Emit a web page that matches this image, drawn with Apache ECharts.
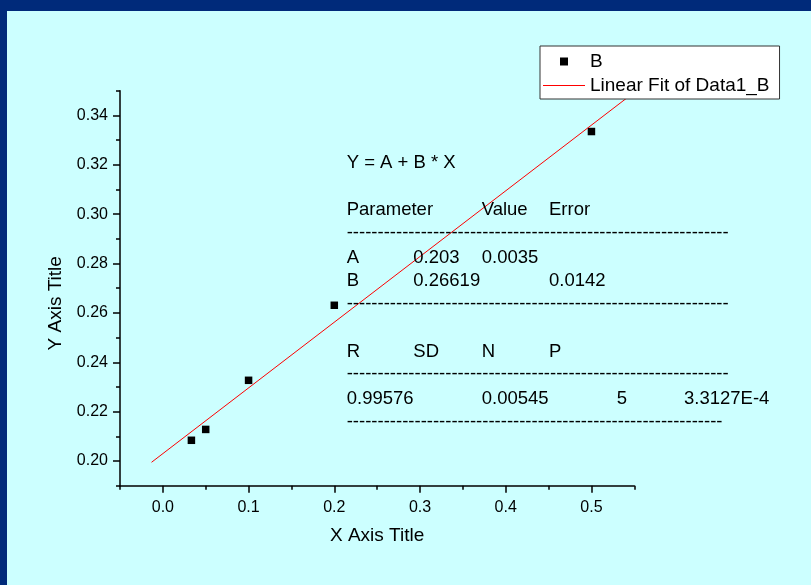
<!DOCTYPE html>
<html>
<head>
<meta charset="utf-8">
<script src="https://cdn.jsdelivr.net/npm/echarts@6/dist/echarts.min.js"></script>
<style>
  html, body { margin: 0; padding: 0; background: #CCFFFF; }
  #chart { width: 811px; height: 585px; }
</style>
</head>
<body>
<div id="chart"></div>
<script>
// Measured points (series "B")
const xValues = [0.0333, 0.05, 0.1, 0.2, 0.5];
const yValues = [0.2084, 0.2128, 0.2327, 0.2631, 0.3335];

// Linear fit parameters and the x span of the drawn fit line
const fitA = 0.203;
const fitB = 0.26619;
const fitXRange = [-0.0132, 0.55];

// Axis ticks
const xMajorTicks = [0.0, 0.1, 0.2, 0.3, 0.4, 0.5];
const xMinorTicks = [-0.05, 0.05, 0.15, 0.25, 0.35, 0.45, 0.55];
const yMajorTicks = [0.20, 0.22, 0.24, 0.26, 0.28, 0.30, 0.32, 0.34];
const yMinorTicks = [0.19, 0.21, 0.23, 0.25, 0.27, 0.29, 0.31, 0.33, 0.35];

// Fit report text
const equationLine = ['Y = A + B * X'];
const paramHeader = ['Parameter', '', 'Value', 'Error'];
const paramRowA = ['A', String(fitA), '0.0035'];
const paramRowB = ['B', String(fitB), '', '0.0142'];
const statHeader = ['R', 'SD', 'N', 'P'];
const statValues = ['0.99576', '', '0.00545', '', '5', '3.3127E-4'];

const FONT = '"Liberation Sans", Arial, sans-serif';
const reportFont = '18.5px ' + FONT;
const colX = [346.7, 413.3, 481.7, 549, 616.7, 684];

function textRow(cells, y) {
  return cells.map((t, i) => ({
    type: 'text', x: colX[i], y: y, z: 10,
    style: { text: t, font: reportFont, fill: '#000', verticalAlign: 'middle' }
  })).filter(e => e.style.text !== '');
}
function dashRow(count, y) {
  return [{
    type: 'text', x: colX[0], y: y, z: 10,
    style: { text: '-'.repeat(count), font: reportFont, fill: '#000', verticalAlign: 'middle' }
  }];
}

const reportElements = [].concat(
  textRow(equationLine, 163),
  textRow(paramHeader, 210),
  dashRow(62, 233),
  textRow(paramRowA, 258.3),
  textRow(paramRowB, 281),
  dashRow(62, 304),
  textRow(statHeader, 351.7),
  dashRow(62, 374),
  textRow(statValues, 399),
  dashRow(61, 421.5)
);

const frameColor = '#002A7A';
const axisColor = '#000';
const fitColor = '#FF0000';
const tickFontSize = 16;

const scatterData = xValues.map((x, i) => [x, yValues[i]]);
const fitData = fitXRange.map(x => [x, fitA + fitB * x]);

const chart = echarts.init(document.getElementById('chart'));
chart.setOption({
  backgroundColor: '#CCFFFF',
  animation: false,
  textStyle: { fontFamily: FONT },
  grid: { left: 120, top: 90.8, width: 514.3, height: 394.9, outerBoundsMode: 'none' },
  legend: {
    orient: 'vertical',
    left: 540, top: 46,
    backgroundColor: '#fff',
    borderColor: '#333', borderWidth: 1,
    padding: [6, 10, 4, 3],
    itemWidth: 42, itemHeight: 8, itemGap: 5,
    textStyle: { fontSize: 19, color: '#000', fontFamily: FONT },
    data: [
      { name: 'B', icon: 'path://M0,0M42,8M17,0h8v8h-8z',
        itemStyle: { color: '#000', borderWidth: 0 } },
      { name: 'Linear Fit of Data1_B', icon: 'rect',
        itemStyle: { opacity: 0, borderWidth: 0 } }
    ]
  },
  xAxis: [{
    type: 'value', min: -0.05, max: 0.55, interval: 0.05, position: 'bottom',
    axisLine: { show: true, onZero: false, lineStyle: { color: axisColor, width: 1.5 } },
    axisTick: { show: true, customValues: xMajorTicks, length: 7, lineStyle: { color: axisColor, width: 1.5 } },
    axisLabel: { customValues: xMajorTicks, formatter: v => v.toFixed(1), margin: 14, fontSize: tickFontSize, color: '#000', fontFamily: FONT },
    splitLine: { show: false },
    name: 'X Axis Title', nameLocation: 'middle', nameGap: 41,
    nameTextStyle: { fontSize: 19, color: '#000', fontFamily: FONT }
  }, {
    type: 'value', min: -0.05, max: 0.55, interval: 0.05, position: 'bottom', offset: 0,
    axisLine: { show: false, onZero: false },
    axisTick: { show: true, customValues: xMinorTicks, length: 4, lineStyle: { color: axisColor, width: 1.5 } },
    axisLabel: { show: false },
    splitLine: { show: false }
  }],
  yAxis: [{
    type: 'value', min: 0.19, max: 0.35, interval: 0.01, position: 'left',
    axisLine: { show: true, onZero: false, lineStyle: { color: axisColor, width: 1.5 } },
    axisTick: { show: true, customValues: yMajorTicks, length: 7, lineStyle: { color: axisColor, width: 1.5 } },
    axisLabel: { customValues: yMajorTicks, formatter: v => v.toFixed(2), margin: 12, fontSize: tickFontSize, color: '#000', fontFamily: FONT },
    splitLine: { show: false },
    name: 'Y Axis Title', nameLocation: 'middle', nameGap: 55,
    nameTextStyle: { fontSize: 19, color: '#000', fontFamily: FONT, padding: [0, 30, 0, 0] }
  }, {
    type: 'value', min: 0.19, max: 0.35, interval: 0.01, position: 'left', offset: 0,
    axisLine: { show: false, onZero: false },
    axisTick: { show: true, customValues: yMinorTicks, length: 4, lineStyle: { color: axisColor, width: 1.5 } },
    axisLabel: { show: false },
    splitLine: { show: false }
  }],
  series: [{
    name: 'B', type: 'scatter', xAxisIndex: 0, yAxisIndex: 0,
    symbol: 'rect', symbolSize: 7.5,
    itemStyle: { color: '#000', borderWidth: 0, opacity: 1 },
    data: scatterData
  }, {
    name: 'Linear Fit of Data1_B', type: 'line', xAxisIndex: 0, yAxisIndex: 0,
    symbol: 'none', silent: true,
    lineStyle: { color: fitColor, width: 1 },
    itemStyle: { color: fitColor },
    data: fitData
  }],
  graphic: {
    elements: [
      { type: 'rect', left: 0, top: 0, z: 0, shape: { width: 811, height: 11 }, style: { fill: frameColor } },
      { type: 'rect', left: 0, top: 0, z: 0, shape: { width: 7, height: 585 }, style: { fill: frameColor } },
      // red key line beside the fit entry of the legend
      { type: 'line', z: 20, shape: { x1: 543, y1: 85.5, x2: 585, y2: 85.5 },
        style: { stroke: fitColor, lineWidth: 1 } }
    ].concat(reportElements)
  }
});
</script>
</body>
</html>
